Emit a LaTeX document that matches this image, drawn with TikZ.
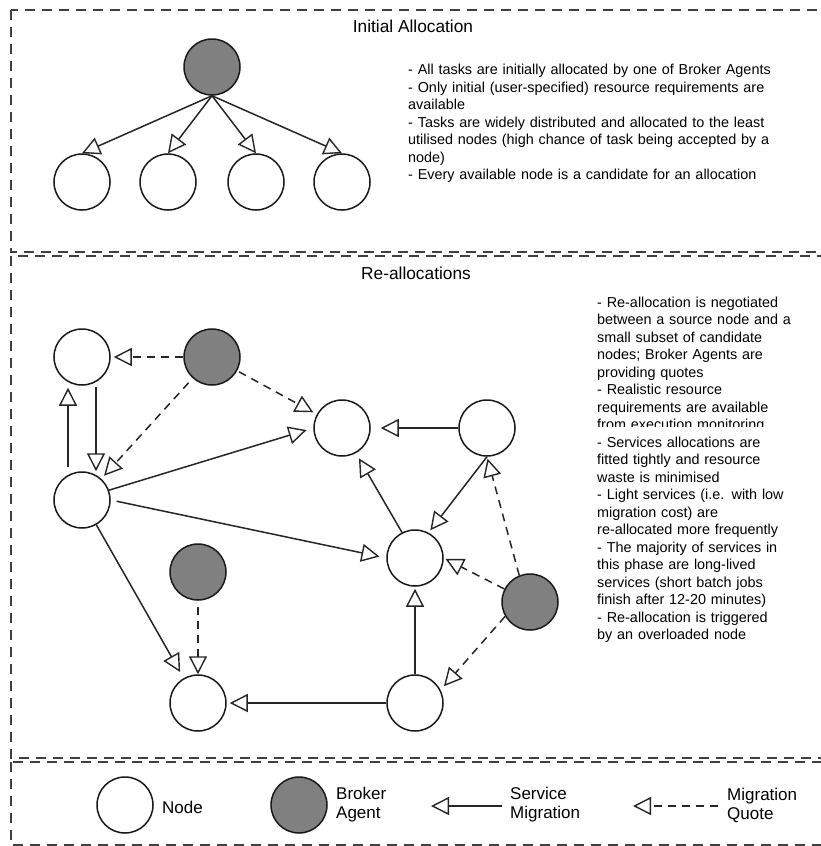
\documentclass[tikz,border=0pt]{standalone}
\usepackage{fontspec}
\setmainfont{Liberation Sans}
\usetikzlibrary{arrows.meta}
\begin{document}
\begin{tikzpicture}[x=1pt,y=-1pt,
  nd/.style={circle,draw=black!90,line width=1.5pt,minimum size=56pt,inner sep=0pt,fill=white},
  bk/.style={nd,fill=black!50},
  mig/.style={line width=1.5pt,draw=black!85,-{Triangle[open,length=18pt,width=18pt,line width=1.4pt]}},
  quote/.style={mig,dash pattern=on 8pt off 6pt},
  frame/.style={draw=black!75,line width=1.5pt,dash pattern=on 10pt off 7pt},
  body/.style={font=\fontsize{14.4}{17.5}\selectfont,inner sep=0pt,anchor=base west,align=left,text width=230pt},
  ttl/.style={font=\fontsize{17.3}{20}\selectfont,inner sep=0pt},
  leg/.style={font=\fontsize{17}{19}\selectfont,inner sep=0pt,anchor=west,align=left}
]
\useasboundingbox (0,0) rectangle (821,846);
\fill[white] (0,0) rectangle (821,846);

% frames
\draw[frame] (11,10) rectangle (835,252);
\draw[frame] (11,256) rectangle (835,758);
\draw[frame] (11,762) rectangle (835,845);

% ---------- Initial allocation ----------
\node[ttl] (t1) at (413,26) {Initial Allocation};
\node[bk] (r) at (212,67) {};
\node[nd] (i1) at (82,182) {};
\node[nd] (i2) at (168,182) {};
\node[nd] (i3) at (256,182) {};
\node[nd] (i4) at (342,182) {};
\foreach \n in {i1,i2,i3,i4} \draw[mig] (r.south) -- (\n.north);

\node[body,text width=400pt] (txt1) at (408,74.5) {- All tasks are initially allocated by one of Broker Agents\\
- Only initial (user-specified) resource requirements are\\
available\\
- Tasks are widely distributed and allocated to the least\\
utilised nodes (high chance of task being accepted by a\\
node)\\
- Every available node is a candidate for an allocation};

% ---------- Re-allocations ----------
\node[ttl] (t2) at (416,273) {Re-allocations};
\node[nd] (A) at (82,357) {};
\node[bk] (B1) at (212,357) {};
\node[nd] (C) at (342,428) {};
\node[nd] (D) at (82,500) {};
\node[nd] (E) at (487,428) {};
\node[nd] (F) at (415,558) {};
\node[bk] (B2) at (530,602) {};
\node[bk] (B3) at (198,572) {};
\node[nd] (H) at (198,703) {};
\node[nd] (G) at (415,703) {};

\draw[quote,shorten >=3pt] (B1.west) -- (A.east);
\draw[quote,shorten >=4pt,shorten <=2pt] (B1) -- (C);
\draw[quote,shorten >=4pt,shorten <=6pt] (B1) -- (D);
\draw[mig,shorten <=1pt] ([xshift=14pt]A.south) -- ([xshift=14pt]D.north);
\draw[mig,shorten <=4pt,shorten >=2pt] ([xshift=-14pt]D.north) -- ([xshift=-14pt]A.south);
\draw[mig,shorten >=7pt] (D.20) -- (C.west);
\draw[mig,shorten >=7pt,shorten <=6pt] (D.east) -- (F.west);
\draw[mig,shorten >=7pt] (D.-60) -- (H.120);
\draw[quote,shorten <=6pt] (B3.south) -- (H.north);
\draw[mig,shorten >=3pt] (G.west) -- (H.east);
\draw[mig,shorten >=2pt] (G.north) -- (F.south);
\draw[mig,shorten >=6pt] (F.117) -- (C.-61);
\draw[mig,shorten >=10pt] (E.west) -- (C.east);
\draw[mig,shorten >=3pt] (E.south) -- (F.62);
\draw[quote,shorten >=2pt] (B2.112) -- (E.south);
\draw[quote,shorten >=2pt] (B2.153) -- (F.east);
\draw[quote,shorten >=5pt] (B2.210) -- (G.27);

\node[body] (txt2) at (597,307) {- Re-allocation is negotiated\\
between a source node and a\\
small subset of candidate\\
nodes; Broker Agents are\\
providing quotes\\
- Realistic resource\\
requirements are available\\
from execution monitoring\\
- Services allocations are\\
fitted tightly and resource\\
waste is minimised\\
- Light services (i.e. with low\\
migration cost) are\\
re-allocated more frequently\\
- The majority of services in\\
this phase are long-lived\\
services (short batch jobs\\
finish after 12-20 minutes)\\
- Re-allocation is triggered\\
by an overloaded node};
% the reference shows the lower half of this text line cut off
\fill[white] (594,426.5) rectangle (800,434.5);

% ---------- Legend ----------
\node[nd] (ln) at (125,805) {};
\node[leg] (lnt) at (162,807) {Node};
\node[bk] (lb) at (299,805) {};
\node[leg] (lbt) at (336,805) {Broker\\Agent};
\coordinate (s1) at (502,806);
\coordinate (s2) at (431,806);
\draw[mig] (s1) -- (s2);
\node[leg] (lst) at (510,805) {Service\\Migration};
\coordinate (q1) at (718,806);
\coordinate (q2) at (633,806);
\draw[quote] (q1) -- (q2);
\node[leg] (lqt) at (727,805) {Migration\\Quote};
\end{tikzpicture}
\end{document}
